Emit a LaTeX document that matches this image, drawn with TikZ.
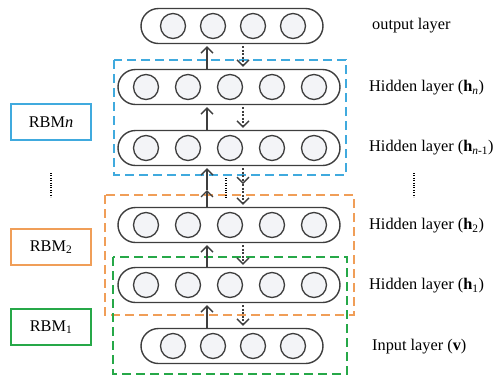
\documentclass[tikz,border=0pt]{standalone}
\usepackage{fontspec}
\setmainfont{Liberation Serif}
\usetikzlibrary{positioning,shapes.misc,arrows.meta}
\definecolor{rbmblue}{RGB}{64,170,222}
\definecolor{rbmorange}{RGB}{240,158,88}
\definecolor{rbmgreen}{RGB}{38,168,72}
\definecolor{unitgray}{RGB}{62,62,62}
\definecolor{unitfill}{RGB}{243,244,247}

\begin{document}
\begin{tikzpicture}[x=1pt,y=-1pt,
    font=\fontsize{16.3}{20}\selectfont,
    layer/.style={draw=unitgray,line width=1.4pt,rounded rectangle,
      minimum height=35pt,inner sep=0pt},
    unit/.style={circle,draw=unitgray,fill=unitfill,line width=1.3pt,
      minimum size=25pt,inner sep=0pt},
    rbm/.style={draw=#1,line width=1.3pt,minimum width=80pt,minimum height=36pt},
    group/.style={draw=#1,line width=1.5pt,dash pattern=on 9pt off 5pt},
    up/.style={draw=unitgray,line width=1.3pt,
      -{Straight Barb[length=6pt,width=12pt]},shorten >=2pt},
    down/.style={up,dash pattern=on 2pt off 1.5pt,shorten <=2pt},
    dots/.style={line width=1.2pt,dash pattern=on 0.8pt off 1.6pt}]
  \useasboundingbox (0,0) rectangle (496,376);

  % RBM groups
  \draw[group=rbmblue] (114,60) rectangle (346,175);
  \draw[group=rbmorange] (105,195) rectangle (354,315);
  \draw[group=rbmgreen] (113,257) rectangle (347,374);

  % layers
  \node[layer,minimum width=182pt] (out) at (232,26) {};
  \node[layer,minimum width=222pt] (hn) at (229,87) {};
  \node[layer,minimum width=222pt] (hm) at (229,148) {};
  \node[layer,minimum width=222pt] (h2) at (229,225) {};
  \node[layer,minimum width=222pt] (h1) at (229,285) {};
  \node[layer,minimum width=182pt] (in) at (232,346) {};
  \foreach \i in {1,...,4} {
    \node[unit] (out-\i) at (133+40*\i,26) {};
    \node[unit] (in-\i) at (133+40*\i,346) {};
  }
  \foreach \l/\y in {hn/87,hm/148,h2/225,h1/285}
    \foreach \i in {1,...,5}
      \node[unit] (\l-\i) at (104+42*\i,\y) {};

  % connections
  \coordinate (upx) at (207,0);
  \coordinate (dnx) at (243,0);
  \coordinate (upmid) at (207,190);
  \coordinate (dnmid) at (243,184);
  \draw[up] (hn.north -| upx) -- (out.south -| upx);
  \draw[down] (out.south -| dnx) -- (hn.north -| dnx);
  \draw[up] (hm.north -| upx) -- (hn.south -| upx);
  \draw[down] (hn.south -| dnx) -- (hm.north -| dnx);
  \draw[up,shorten >=0pt] (h2.north -| upx) -- (upmid);
  \draw[up] (upmid) -- (hm.south -| upx);
  \draw[down,shorten >=0pt] (hm.south -| dnx) -- (dnmid);
  \draw[down,shorten <=0pt] (dnmid) -- (h2.north -| dnx);
  \draw[dots] (226,178) -- (226,199);
  \draw[up] (h1.north -| upx) -- (h2.south -| upx);
  \draw[down] (h2.south -| dnx) -- (h1.north -| dnx);
  \draw[up] (in.north -| upx) -- (h1.south -| upx);
  \draw[down] (h1.south -| dnx) -- (in.north -| dnx);

  % RBM labels
  \node[rbm=rbmblue] (rbmn) at (51,122) {RBM\textit{n}};
  \node[rbm=rbmorange] (rbm2) at (51,247) {RBM\textsubscript{2}};
  \node[rbm=rbmgreen] (rbm1) at (51,327) {RBM\textsubscript{1}};
  \draw[dots] (51,173) -- (51,197);

  % layer names
  \node[right,inner sep=0pt] (lout) at (372,26) {output layer};
  \node[right,inner sep=0pt] (lhn) at (369,88) {Hidden layer (\textbf{h}\textsubscript{\textit{n}})};
  \node[right,inner sep=0pt] (lhm) at (369,148) {Hidden layer (\textbf{h}\textsubscript{\textit{n}-1})};
  \node[right,inner sep=0pt] (lh2) at (369,226) {Hidden layer (\textbf{h}\textsubscript{2})};
  \node[right,inner sep=0pt] (lh1) at (369,286) {Hidden layer (\textbf{h}\textsubscript{1})};
  \node[right,inner sep=0pt] (lin) at (372,347) {Input layer (\textbf{v})};
  \draw[dots] (414,173) -- (414,197);
\end{tikzpicture}
\end{document}
